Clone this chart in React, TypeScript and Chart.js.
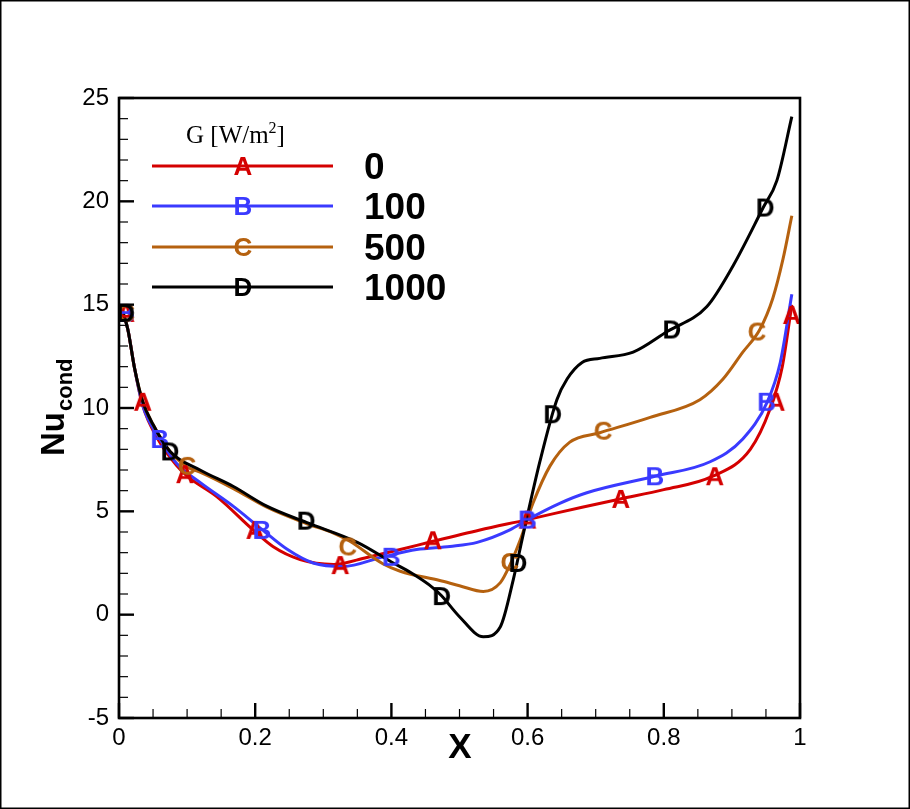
import React, { useEffect, useRef } from 'react';
import { Chart, registerables } from 'chart.js';

Chart.register(...registerables);

// curves (X, Nu_cond)
const xA = [0.005, 0.013, 0.023, 0.035, 0.057, 0.085, 0.1, 0.144, 0.197, 0.226, 0.266, 0.315, 0.364, 0.413, 0.461, 0.53, 0.6, 0.68, 0.736, 0.8, 0.872, 0.927, 0.956, 0.974, 0.988];
const yA = [14.7, 13.8, 11.9, 10.1, 8.5, 7.2, 6.7, 5.7, 4.1, 3.3, 2.67, 2.43, 2.77, 3.15, 3.55, 4.1, 4.6, 5.2, 5.6, 6.05, 6.7, 8.0, 9.95, 12.0, 15.0];

const xB = [0.005, 0.013, 0.023, 0.035, 0.06, 0.085, 0.119, 0.168, 0.207, 0.247, 0.285, 0.329, 0.388, 0.437, 0.486, 0.526, 0.574, 0.6, 0.648, 0.687, 0.787, 0.868, 0.916, 0.952, 0.971, 0.988];
const yB = [14.7, 13.8, 11.9, 10.1, 8.5, 7.3, 6.4, 5.24, 4.2, 3.16, 2.5, 2.33, 2.8, 3.15, 3.3, 3.5, 4.1, 4.6, 5.4, 5.9, 6.7, 7.4, 8.5, 10.3, 12.2, 15.5];

const xC = [0.005, 0.013, 0.023, 0.035, 0.05, 0.075, 0.1, 0.119, 0.168, 0.217, 0.276, 0.315, 0.339, 0.388, 0.413, 0.471, 0.5, 0.535, 0.56, 0.574, 0.589, 0.608, 0.633, 0.662, 0.706, 0.78, 0.853, 0.887, 0.916, 0.941, 0.96, 0.975, 0.988];
const yC = [14.7, 13.8, 11.9, 10.3, 9.2, 7.9, 7.15, 6.9, 6.1, 5.2, 4.4, 3.95, 3.55, 2.45, 2.1, 1.65, 1.4, 1.12, 1.55, 2.4, 3.6, 5.4, 7.2, 8.35, 8.8, 9.55, 10.4, 11.4, 12.7, 13.8, 15.3, 17.2, 19.3];

const xD = [0.005, 0.013, 0.023, 0.035, 0.05, 0.075, 0.119, 0.168, 0.217, 0.276, 0.35, 0.4, 0.43, 0.461, 0.474, 0.5, 0.535, 0.56, 0.579, 0.593, 0.618, 0.643, 0.658, 0.68, 0.706, 0.755, 0.805, 0.863, 0.902, 0.946, 0.966, 0.988];
const yD = [14.7, 13.8, 11.9, 10.3, 9.2, 7.9, 7.0, 6.2, 5.25, 4.45, 3.5, 2.55, 2.0, 1.3, 0.9, -0.1, -1.07, -0.58, 1.7, 3.8, 7.4, 10.4, 11.4, 12.2, 12.4, 12.7, 13.7, 14.9, 16.9, 19.7, 21.0, 24.1];

// symbol positions
const mxA = [0.01, 0.035, 0.097, 0.2, 0.325, 0.461, 0.6, 0.737, 0.875, 0.965, 0.988];
const myA = [14.6, 10.3, 6.8, 4.1, 2.4, 3.6, 4.6, 5.6, 6.7, 10.3, 14.5];
const mxB = [0.01, 0.06, 0.21, 0.4, 0.6, 0.787, 0.951];
const myB = [14.6, 8.5, 4.1, 2.8, 4.6, 6.7, 10.3];
const mxC = [0.01, 0.1, 0.336, 0.574, 0.711, 0.937];
const myC = [14.6, 7.2, 3.3, 2.55, 8.9, 13.7];
const mxD = [0.01, 0.075, 0.275, 0.474, 0.586, 0.637, 0.812, 0.949];
const myD = [14.6, 7.9, 4.55, 0.9, 2.5, 9.7, 13.8, 19.7];

const seriesNames = ['0', '100', '500', '1000'];
const letters = ['A', 'B', 'C', 'D'];
const colors = ['#d40000', '#3a3aff', '#b5610f', '#000000'];

const SANS = '"Liberation Sans", Arial, sans-serif';
const SERIF = '"Liberation Serif", "Times New Roman", serif';

const zip = (xs: number[], ys: number[]) => xs.map((x, i) => ({ x, y: ys[i] }));

function letterCanvas(letter: string, color: string) {
  const c = document.createElement('canvas');
  c.width = 30;
  c.height = 30;
  const ctx = c.getContext('2d')!;
  ctx.font = `bold 26px ${SANS}`;
  ctx.fillStyle = color;
  ctx.textAlign = 'center';
  ctx.textBaseline = 'alphabetic';
  ctx.fillText(letter, 15, 15 + 9.3);
  return c;
}

export default function App() {
  const canvasRef = useRef<HTMLCanvasElement>(null);
  const chartRef = useRef<Chart | null>(null);

  useEffect(() => {
    document.body.style.margin = '0';
    if (!canvasRef.current) return;
    const ctx = canvasRef.current.getContext('2d');
    if (!ctx) return;
    if (chartRef.current) chartRef.current.destroy();

    const symbols = letters.map((l, i) => letterCanvas(l, colors[i]));
    const curves = [zip(xA, yA), zip(xB, yB), zip(xC, yC), zip(xD, yD)];
    const marks = [zip(mxA, myA), zip(mxB, myB), zip(mxC, myC), zip(mxD, myD)];

    const datasets: any[] = [];
    curves.forEach((d, i) => {
      datasets.push({
        label: seriesNames[i],
        data: d,
        showLine: true,
        borderColor: colors[i],
        borderWidth: 3,
        pointRadius: 0,
        cubicInterpolationMode: 'monotone',
        order: 13 - i,
      });
    });
    marks.forEach((d, i) => {
      datasets.push({
        label: seriesNames[i] + ' symbols',
        data: d,
        showLine: false,
        pointStyle: symbols[i],
        pointRadius: 12,
        order: 3 - i,
      });
    });

    // white page
    const background = {
      id: 'background',
      beforeDraw(chart: any) {
        const c = chart.ctx;
        c.save();
        c.fillStyle = '#fff';
        c.fillRect(0, 0, chart.width, chart.height);
        c.restore();
      },
    };

    // Tecplot style frame, inward ticks, titles and legend
    const decor = {
      id: 'decor',
      afterDraw(chart: any) {
        const c = chart.ctx;
        const { left, right, top, bottom } = chart.chartArea;
        const xs = chart.scales.x;
        const ys = chart.scales.y;
        c.save();
        c.strokeStyle = '#000';
        c.lineCap = 'butt';

        for (let k = 0; k <= 20; k++) {
          const px = xs.getPixelForValue(k * 0.05);
          const major = k % 4 === 0;
          c.lineWidth = major ? 2.4 : 1.2;
          c.beginPath();
          c.moveTo(px, bottom);
          c.lineTo(px, bottom - (major ? 15 : 9));
          c.stroke();
        }
        for (let v = -5; v <= 25; v++) {
          const py = ys.getPixelForValue(v);
          const major = v % 5 === 0;
          c.lineWidth = major ? 2.4 : 1.2;
          c.beginPath();
          c.moveTo(left, py);
          c.lineTo(left + (major ? 15 : 9), py);
          c.stroke();
        }

        c.lineWidth = 2.6;
        c.strokeRect(left, top, right - left, bottom - top);

        // outer border of the picture
        c.lineWidth = 1.5;
        c.strokeRect(0.75, 0.75, chart.width - 1.5, chart.height - 1.5);

        // axis titles
        c.fillStyle = '#000';
        c.textBaseline = 'alphabetic';
        c.textAlign = 'center';
        c.font = `bold 35px ${SANS}`;
        c.fillText('X', 460, 758);

        c.save();
        c.translate(64, 456);
        c.rotate(-Math.PI / 2);
        c.textAlign = 'left';
        c.font = `bold 33px ${SANS}`;
        c.fillText('Nu', 0, 0);
        const w = c.measureText('Nu').width;
        c.font = `bold 22px ${SANS}`;
        c.fillText('cond', w + 1, 8);
        c.restore();

        // legend
        c.textAlign = 'left';
        c.font = `25px ${SERIF}`;
        let tx = 186;
        c.fillText('G [W/m', tx, 143);
        tx += c.measureText('G [W/m').width;
        c.font = `16px ${SERIF}`;
        c.fillText('2', tx, 133);
        tx += c.measureText('2').width;
        c.font = `25px ${SERIF}`;
        c.fillText(']', tx, 143);

        const rowY = [166, 206, 247, 287];
        seriesNames.forEach((name, i) => {
          const y = rowY[i];
          c.strokeStyle = colors[i];
          c.lineWidth = 3;
          c.beginPath();
          c.moveTo(152, y);
          c.lineTo(333, y);
          c.stroke();
          c.drawImage(symbols[i], 243 - 15, y - 15);
          c.fillStyle = '#000';
          c.font = `bold 37px ${SANS}`;
          c.fillText(name, 364, y + 13);
        });
        c.restore();
      },
    };

    chartRef.current = new Chart(ctx, {
      type: 'scatter',
      data: { datasets },
      options: {
        animation: false,
        responsive: false,
        events: [],
        layout: { padding: { left: 0, right: 110, top: 98, bottom: 0 } },
        plugins: {
          legend: { display: false },
          tooltip: { enabled: false },
          title: { display: false },
        },
        scales: {
          x: {
            type: 'linear',
            min: 0,
            max: 1,
            grid: { display: false, drawTicks: false },
            border: { display: false },
            afterFit: (s: any) => { s.height = 91; },
            ticks: {
              stepSize: 0.2,
              autoSkip: false,
              maxRotation: 0,
              padding: 6,
              color: '#000',
              font: { family: SANS, size: 24 },
              callback: (v: any) => String(Math.round(Number(v) * 10) / 10),
            },
          },
          y: {
            type: 'linear',
            min: -5,
            max: 25,
            grid: { display: false, drawTicks: false },
            border: { display: false },
            afterFit: (s: any) => { s.width = 119; },
            ticks: {
              stepSize: 5,
              autoSkip: false,
              padding: 10,
              color: '#000',
              font: { family: SANS, size: 24 },
            },
          },
        },
      },
      plugins: [background, decor],
    });

    return () => {
      if (chartRef.current) {
        chartRef.current.destroy();
        chartRef.current = null;
      }
    };
  }, []);

  return (
    <div style={{ width: 910, height: 809 }}>
      <canvas ref={canvasRef} width={910} height={809} style={{ display: 'block' }} />
    </div>
  );
}
